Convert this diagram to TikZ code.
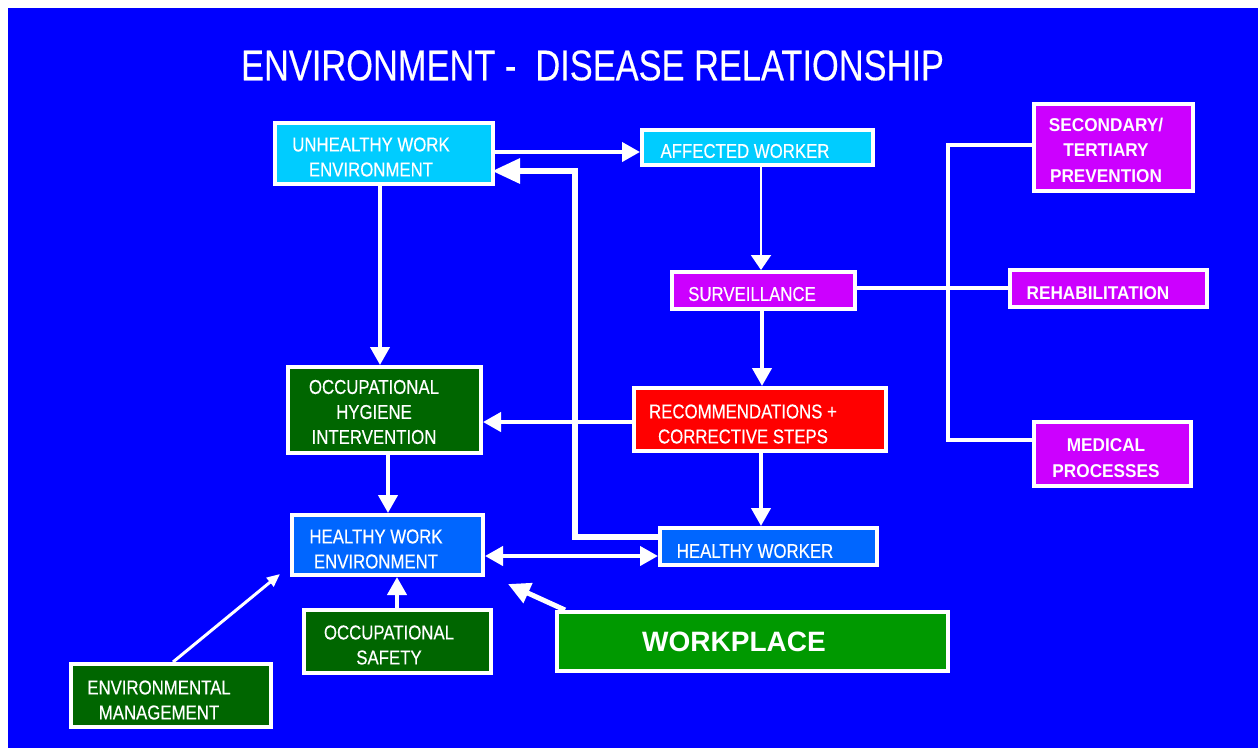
\documentclass[tikz,border=0pt]{standalone}
\usepackage{fontspec}
\setmainfont{Liberation Sans}
\newfontfamily\narrowfont[FakeStretch=0.84,FakeBold=0.4]{Liberation Sans}
\newfontfamily\semifont[FakeStretch=0.93]{Liberation Sans}
\newfontfamily\titlefont[FakeStretch=0.8,FakeBold=0.3]{Liberation Sans}
\usetikzlibrary{arrows.meta}

\definecolor{bgblue}{HTML}{0000FF}
\definecolor{cyanbox}{HTML}{00CCFF}
\definecolor{magbox}{HTML}{CC00FF}
\definecolor{redbox}{HTML}{FF0000}
\definecolor{darkgreen}{HTML}{006600}
\definecolor{greenbox}{HTML}{009900}
\definecolor{bluebox}{HTML}{0066FF}

\tikzset{
  box/.style={draw=white, line width=4pt, rectangle, inner sep=0pt},
  lbl/.style={text=white, font=\narrowfont\fontsize{20}{25}\selectfont, align=center, inner sep=0pt},
  lblb/.style={text=white, font=\semifont\bfseries\fontsize{18.5}{25.5}\selectfont, align=center, inner sep=0pt},
  arr/.style={draw=white, line width=4pt, -{Triangle[length=18pt,width=19pt]}},
  thinarr/.style={draw=white, line width=2pt, -{Triangle[length=15pt,width=20pt]}},
  thickarr/.style={draw=white, line width=6pt, -{Triangle[length=28pt,width=24pt]}},
  envarr/.style={draw=white, line width=3pt, -{Triangle[length=13pt,width=11pt]}},
  wparr/.style={draw=white, line width=5pt, -{Triangle[length=22pt,width=21pt]}},
  link/.style={draw=white, line width=4pt},
}

\begin{document}
\begin{tikzpicture}[x=1pt, y=-1pt]
  % page and slide background
  \fill[white] (0,0) rectangle (1258,748);
  \fill[bgblue] (8,8) rectangle (1258,748);
  \useasboundingbox (0,0) rectangle (1258,748);

  % title
  \node[text=white, inner sep=0pt, font=\titlefont\fontsize{43}{50}\selectfont] (title) at (592.5,65.5)
    {ENVIRONMENT -\ \ DISEASE RELATIONSHIP};

  % boxes
  \node[box, fill=cyanbox, minimum width=218pt, minimum height=61pt] (uwe) at (384,153.5) {};
  \node[lbl] (uwe-t) at (371,157) {UNHEALTHY WORK\\ENVIRONMENT};

  \node[box, fill=cyanbox, minimum width=231pt, minimum height=35pt] (aw) at (757.5,147.5) {};
  \node[lbl] (aw-t) at (745,151) {AFFECTED WORKER};

  \node[box, fill=magbox, minimum width=183pt, minimum height=37pt] (surv) at (763.5,290.5) {};
  \node[lbl] (surv-t) at (752,294) {SURVEILLANCE};

  \node[box, fill=redbox, minimum width=252pt, minimum height=63pt] (rec) at (760,419.5) {};
  \node[lbl] (rec-t) at (743,424) {RECOMMENDATIONS +\\CORRECTIVE STEPS};

  \node[box, fill=darkgreen, minimum width=193pt, minimum height=86pt] (hyg) at (384.5,410) {};
  \node[lbl] (hyg-t) at (374,412) {OCCUPATIONAL\\HYGIENE\\INTERVENTION};

  \node[box, fill=bluebox, minimum width=191pt, minimum height=60pt] (hwe) at (387.5,545) {};
  \node[lbl] (hwe-t) at (376,549) {HEALTHY WORK\\ENVIRONMENT};

  \node[box, fill=bluebox, minimum width=217pt, minimum height=37pt] (hw) at (768.5,546.5) {};
  \node[lbl] (hw-t) at (755,551) {HEALTHY WORKER};

  \node[box, fill=magbox, minimum width=159pt, minimum height=87pt] (sec) at (1113.5,147.5) {};
  \node[lblb] (sec-t) at (1106,150) {SECONDARY/\\TERTIARY\\PREVENTION};

  \node[box, fill=magbox, minimum width=197pt, minimum height=37pt] (rehab) at (1108.5,288.5) {};
  \node[lblb] (rehab-t) at (1098,293) {REHABILITATION};

  \node[box, fill=magbox, minimum width=157pt, minimum height=64pt] (med) at (1112.5,454) {};
  \node[lblb] (med-t) at (1106,458) {MEDICAL\\PROCESSES};

  \node[box, fill=darkgreen, minimum width=187pt, minimum height=63pt] (os) at (397.5,641.5) {};
  \node[lbl] (os-t) at (389,645) {OCCUPATIONAL\\SAFETY};

  \node[box, fill=greenbox, minimum width=391pt, minimum height=59pt] (wp) at (752.5,641.5) {};
  \node[text=white, inner sep=0pt, font=\bfseries\fontsize{28}{34}\selectfont] (wp-t) at (734,642) {WORKPLACE};

  \node[box, fill=darkgreen, minimum width=200pt, minimum height=63pt] (em) at (171,695.5) {};
  \node[lbl] (em-t) at (159,700) {ENVIRONMENTAL\\MANAGEMENT};

  % free ends of the two diagonal arrows
  \coordinate (em-tip) at (280,574);
  \coordinate (wp-tip) at (508,584);

  % connectors
  \draw[arr] (uwe.east |- 0,152) -- (aw.west |- 0,152);
  \draw[thickarr, shorten >=-3pt] (hw.west |- 0,537) -| (575,171) -- (uwe.east |- 0,171);
  \draw[thinarr] (761,0 |- aw.south) -- (761,0 |- surv.north);
  \draw[arr] (762,0 |- surv.south) -- (762,0 |- rec.north);
  \draw[arr] (rec.west |- 0,422) -- (hyg.east |- 0,422);
  \draw[arr] (761,0 |- rec.south) -- (761,0 |- hw.north);
  \draw[arr] (380,0 |- uwe.south) -- (380,0 |- hyg.north);
  \draw[arr] (388,0 |- hyg.south) -- (388,0 |- hwe.north);
  \draw[arr, {Triangle[length=18pt,width=19pt]}-{Triangle[length=18pt,width=19pt]}]
    (hwe.east |- 0,556) -- (hw.west |- 0,556);
  \draw[arr] (397,0 |- os.north) -- (397,0 |- hwe.south);
  \draw[envarr] (173,0 |- em.north) -- (em-tip);
  \draw[wparr] (565,0 |- wp.north) -- (wp-tip);

  % branches from surveillance to the medical side
  \draw[link] (surv.east |- 0,288) -- (rehab.west |- 0,288);
  \draw[link] (sec.west |- 0,145) -- (948,145) -- (948,440) -- (med.west |- 0,440);
\end{tikzpicture}
\end{document}
